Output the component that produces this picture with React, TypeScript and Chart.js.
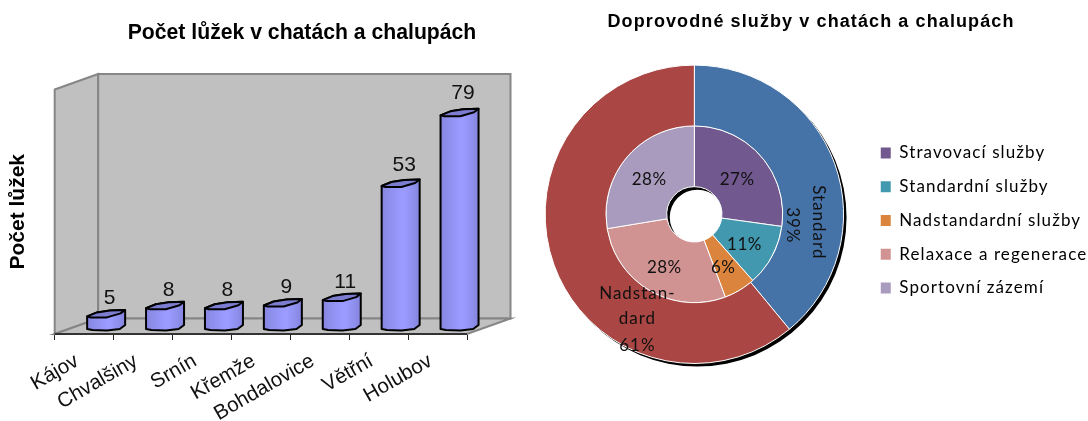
import React, { useEffect, useRef } from "react";
import { Chart, registerables } from "chart.js";

Chart.register(...registerables);

const towns = ["Kájov", "Chvalšiny", "Srnín", "Křemže", "Bohdalovice", "Větřní", "Holubov"];
const beds = [5, 8, 8, 9, 11, 53, 79];

const serviceNames = ["Stravovací služby", "Standardní služby", "Nadstandardní služby", "Relaxace a regenerace", "Sportovní zázemí"];
const serviceShares = [27.2, 11.3, 5.8, 28.1, 27.6];
const serviceColors = ["#71588f", "#4298af", "#db843d", "#d19392", "#a99bbd"];

const tierNames = ["Standard", "Nadstandard"];
const tierShares = [39, 61];
const tierColors = ["#4572a7", "#aa4643"];

const barTitle = "Počet lůžek v chatách a chalupách";
const axisTitle = "Počet lůžek";
const pieTitle = "Doprovodné služby v chatách a chalupách";

const wallPlugin = {
  id: "walls",
  afterLayout(chart: any) {
    chart.titleBlock.left += 68.5;
    chart.titleBlock.right += 68.5;
  },
  beforeDatasetsDraw(chart: any) {
    const { ctx, chartArea: a } = chart;
    const dx = 43.5, dy = -15.5;
    ctx.save();
    ctx.fillStyle = "#c0c0c0";
    ctx.strokeStyle = "#868686";
    ctx.lineWidth = 2;
    const poly = (pts: number[][]) => {
      ctx.beginPath();
      pts.forEach((p, i) => (i ? ctx.lineTo(p[0], p[1]) : ctx.moveTo(p[0], p[1])));
      ctx.closePath();
      ctx.fill();
      ctx.stroke();
    };
    poly([[a.left, a.top], [a.left + dx, a.top + dy], [a.left + dx, a.bottom + dy], [a.left, a.bottom]]);
    poly([[a.left + dx, a.top + dy], [a.right + dx, a.top + dy], [a.right + dx, a.bottom + dy], [a.left + dx, a.bottom + dy]]);
    poly([[a.left, a.bottom], [a.left + dx, a.bottom + dy], [a.right + dx, a.bottom + dy], [a.right, a.bottom]]);
    ctx.strokeStyle = "#333";
    ctx.beginPath();
    ctx.moveTo(a.left, a.bottom);
    ctx.lineTo(a.right, a.bottom);
    ctx.stroke();
    ctx.restore();
  },
};

const cylinderPlugin = {
  id: "cylinders",
  beforeDatasetDraw(chart: any, args: any) {
    const { ctx } = chart;
    const meta = chart.getDatasetMeta(args.index);
    const sx = 22, sy = -4;
    ctx.save();
    ctx.lineJoin = "round";
    meta.data.forEach((bar: any, i: number) => {
      const w = bar.width;
      const x0 = bar.x - w / 2 + sx;
      const x1 = bar.x + w / 2 + sx;
      const top = bar.y + sy;
      const bot = bar.base + sy;
      const xm = x0 + w * 0.52;
      const value = chart.data.datasets[args.index].data[i];
      const grad = ctx.createLinearGradient(x0, 0, x1, 0);
      grad.addColorStop(0, "#8686e0");
      grad.addColorStop(0.5, "#9a9aff");
      grad.addColorStop(0.62, "#9a9aff");
      grad.addColorStop(1, "#8585de");
      ctx.beginPath();
      ctx.moveTo(x0, top);
      ctx.lineTo(x0 + w * 0.26, top - 4);
      ctx.lineTo(x0 + w * 0.6, top - 6);
      ctx.lineTo(x1, top - 6.5);
      ctx.lineTo(x1, bot - 5);
      ctx.lineTo(x1 - w * 0.14, bot - 1);
      ctx.lineTo(xm, bot + 0.5);
      ctx.lineTo(x0 + w * 0.14, bot);
      ctx.lineTo(x0, bot - 1);
      ctx.closePath();
      ctx.fillStyle = grad;
      ctx.fill();
      ctx.strokeStyle = "#000";
      ctx.lineWidth = 2;
      ctx.stroke();
      ctx.beginPath();
      ctx.moveTo(x0, top);
      ctx.lineTo(x0 + w * 0.26, top - 4);
      ctx.lineTo(x0 + w * 0.6, top - 6);
      ctx.lineTo(x1, top - 6.5);
      ctx.lineTo(x1 - w * 0.12, top - 3);
      ctx.lineTo(xm, top + 1);
      ctx.lineTo(x0 + w * 0.1, top + 1);
      ctx.closePath();
      ctx.fillStyle = "#7c7cd0";
      ctx.fill();
      ctx.stroke();
      ctx.fillStyle = "#111";
      ctx.font = "21px 'Liberation Sans'";
      ctx.textAlign = "center";
      ctx.textBaseline = "middle";
      ctx.fillText(String(value), bar.x + sx + 3.5, top - 17.5 - value * 0.055);
    });
    ctx.restore();
    return false;
  },
};

const ringPlugin = {
  id: "rings",
  beforeDatasetsDraw(chart: any) {
    const { ctx } = chart;
    const first = chart.getDatasetMeta(0).data[0];
    const inner = chart.getDatasetMeta(1).data[0];
    ctx.save();
    ctx.fillStyle = "#000";
    ctx.beginPath();
    ctx.arc(first.x + 3, first.y + 3, first.outerRadius, 0, Math.PI * 2);
    ctx.arc(first.x + 3, first.y + 3, inner.innerRadius, 0, Math.PI * 2, true);
    ctx.fill("evenodd");
    ctx.restore();
  },
  afterDatasetsDraw(chart: any) {
    const { ctx } = chart;
    const cx = chart.getDatasetMeta(0).data[0].x;
    const cy = chart.getDatasetMeta(0).data[0].y;
    ctx.save();
    ctx.fillStyle = "#111";
    ctx.font = "17px Lato";
    ctx.textAlign = "center";
    ctx.textBaseline = "middle";
    (ctx as any).letterSpacing = "0.5px";
    chart.getDatasetMeta(1).data.forEach((arc: any, i: number) => {
      const c = arc.getCenterPoint();
      ctx.fillText(Math.round(serviceShares[i]) + "%", c.x - 1, c.y + 3);
    });
    (ctx as any).letterSpacing = "1px";
    ctx.fillText("Nadstan-", cx - 57, cy + 79);
    ctx.fillText("dard", cx - 57, cy + 104);
    ctx.fillText(tierShares[1] + "%", cx - 57, cy + 131);
    ctx.translate(cx + 124, cy + 8);
    ctx.rotate(Math.PI / 2);
    ctx.fillText(tierNames[0], 0, 0);
    ctx.fillText(tierShares[0] + "%", 3, 26);
    ctx.restore();
  },
  beforeLayout(chart: any) {
    (chart.ctx as any).letterSpacing = "1.1px";
  },
  afterLayout(chart: any) {
    const lg = chart.legend;
    lg.left = 332;
    lg.right = 556;
    lg.width = 224;
    lg.top = 65;
    lg.bottom = 376;
    lg.height = 311;
  },
  beforeDraw(chart: any) {
    (chart.ctx as any).letterSpacing = "1.1px";
  },
};

export default function App() {
  const barRef = useRef<HTMLCanvasElement>(null);
  const pieRef = useRef<HTMLCanvasElement>(null);

  useEffect(() => {
    const barChart = new Chart(barRef.current as HTMLCanvasElement, {
      type: "bar",
      data: {
        labels: towns,
        datasets: [{ data: beds, backgroundColor: "#9999ff", barPercentage: 0.645, categoryPercentage: 1 }],
      },
      plugins: [wallPlugin, cylinderPlugin],
      options: {
        animation: false,
        responsive: false,
        layout: { padding: { left: 0, right: 137, top: 0, bottom: 0 } },
        plugins: {
          legend: { display: false },
          tooltip: { enabled: false },
          title: {
            display: true,
            text: barTitle,
            color: "#000",
            font: { family: "'Liberation Sans'", size: 21.2, weight: "bold" },
            padding: { top: 20, bottom: 44 },
          },
        },
        scales: {
          x: {
            offset: true,
            border: { display: false },
            grid: { offset: true, drawOnChartArea: false, drawTicks: true, tickLength: 6, color: "#222" },
            afterFit: (axis: any) => { axis.height = 87; },
            ticks: {
              autoSkip: false,
              minRotation: 30,
              maxRotation: 30,
              padding: 9,
              labelOffset: -7,
              color: "#111",
              font: { family: "'Liberation Sans'", size: 20.5 },
            },
          },
          y: {
            min: 0,
            max: 90,
            border: { display: false },
            grid: { display: false },
            ticks: { display: false },
            afterFit: (axis: any) => { axis.width = 54.7; },
            title: {
              display: true,
              text: axisTitle,
              color: "#000",
              font: { family: "'Liberation Sans'", size: 21, weight: "bold" },
              padding: { top: 6, bottom: 0 },
            },
          },
        },
      },
    } as any);

    const pieChart = new Chart(pieRef.current as HTMLCanvasElement, {
      type: "doughnut",
      data: {
        labels: serviceNames,
        datasets: [
          { data: tierShares, backgroundColor: tierColors, borderColor: "#fff", borderWidth: 1 },
          { data: serviceShares, backgroundColor: serviceColors, borderColor: "#fff", borderWidth: 1 },
        ],
      },
      plugins: [ringPlugin],
      options: {
        animation: false,
        responsive: false,
        cutout: "18.5%",
        layout: { padding: { left: 12, right: 10, top: 0, bottom: 57 } },
        plugins: {
          tooltip: { enabled: false },
          title: {
            display: true,
            text: pieTitle,
            color: "#000",
            font: { family: "'Liberation Sans'", size: 18, weight: "bold" },
            padding: { top: 11, bottom: 32 },
          },
          legend: {
            position: "right",
            labels: {
              boxWidth: 10,
              boxHeight: 11,
              padding: 16.75,
              color: "#111",
              font: { family: "Lato", size: 17 },
              generateLabels: () =>
                serviceNames.map((name, i) => ({
                  text: name,
                  fillStyle: serviceColors[i],
                  strokeStyle: serviceColors[i],
                  lineWidth: 0,
                  index: i,
                })),
            },
          },
        },
      },
    } as any);

    return () => {
      barChart.destroy();
      pieChart.destroy();
    };
  }, []);

  return (
    <div style={{ position: "absolute", left: 0, top: 0, width: 1088, height: 421, overflow: "hidden", background: "#fff" }}>
      <canvas ref={barRef} width={604} height={421} style={{ position: "absolute", left: 0, top: 0 }} />
      <canvas ref={pieRef} width={556} height={421} style={{ position: "absolute", left: 532, top: 0 }} />
    </div>
  );
}
